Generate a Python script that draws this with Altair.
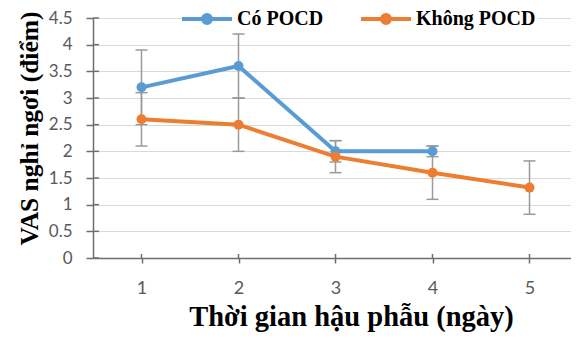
import altair as alt
import pandas as pd

days = [1, 2, 3, 4, 5]
series = ["Có POCD", "Không POCD"]
co_mean = [3.2, 3.6, 2.0, 2.0, None]
co_err = [0.7, 0.6, 0.2, 0.1, None]
khong_mean = [2.6, 2.5, 1.9, 1.6, 1.32]
khong_err = [0.5, 0.5, 0.3, 0.5, 0.5]
y_ticks = [0, 0.5, 1, 1.5, 2, 2.5, 3, 3.5, 4, 4.5]
x_ticks = [1, 2, 3, 4, 5]
colors = ["#5B9BD5", "#ED7D31"]

rows = []
for name, means, errs in [(series[0], co_mean, co_err), (series[1], khong_mean, khong_err)]:
    for d, m, e in zip(days, means, errs):
        if m is None:
            continue
        rows.append({"day": d, "series": name, "value": m, "lo": m - e, "hi": m + e})
df = pd.DataFrame(rows)

W, H = 478, 240
x_max = 0.5 + W / 97.0
xscale = alt.Scale(domain=[0.5, x_max], nice=False, zero=False)
yscale = alt.Scale(domain=[0, 4.5], nice=False)
cscale = alt.Scale(domain=series, range=colors)

axis_col = "#6e6e6e"
x_axis = alt.Axis(
    values=x_ticks, grid=False, tickSize=5, tickWidth=1.5, tickColor=axis_col,
    domainColor=axis_col, domainWidth=1.5,
    labelFont="Lato", labelFontSize=18, labelColor="#595959", labelPadding=16,
    title="Thời gian hậu phẫu (ngày)", titleFont="Liberation Serif",
    titleFontSize=28.5, titleFontWeight="bold", titleColor="black",
    titleX=258, titleY=67, titleBaseline="alphabetic", titleAnchor="middle",
)
y_axis = alt.Axis(
    values=y_ticks, format="~g",
    grid=True, gridColor="#d9d9d9", gridWidth=1.2,
    tickSize=7, tickWidth=1.5, tickColor=axis_col,
    domainColor=axis_col, domainWidth=1.5,
    labelFont="Lato", labelFontSize=17, labelColor="#595959", labelPadding=14,
    title="VAS nghỉ ngơi (điểm)", titleFont="Liberation Serif",
    titleFontSize=25.5, titleFontWeight="bold", titleColor="black",
    titleX=-64, titleY=110, titleBaseline="middle", titleAngle=-90,
)

legend = alt.Legend(
    orient="none", legendX=102, legendY=-11, direction="horizontal", title=None,
    symbolType="M-5,0L5,0M-0.8,0A0.8,0.8,0,1,0,0.8,0A0.8,0.8,0,1,0,-0.8,0",
    symbolSize=100, symbolStrokeWidth=4, labelOffset=20, columnPadding=29,
    labelFont="Liberation Serif", labelFontSize=20, labelFontWeight="bold",
    labelColor="black", fillColor="white", padding=2,
)

X = alt.X("day:Q", scale=xscale, axis=x_axis)

base = alt.Chart(df)
err_col = "#9a9a9a"

err = base.mark_rule(color=err_col, strokeWidth=1.5).encode(
    x=X, y=alt.Y("lo:Q", scale=yscale, axis=y_axis), y2="hi:Q",
)
cap_lo = base.mark_rule(color=err_col, strokeWidth=1.5, xOffset=-6, x2Offset=6).encode(
    x=X, x2="day:Q", y=alt.Y("lo:Q", scale=yscale, axis=y_axis)
)
cap_hi = base.mark_rule(color=err_col, strokeWidth=1.5, xOffset=-6, x2Offset=6).encode(
    x=X, x2="day:Q", y=alt.Y("hi:Q", scale=yscale, axis=y_axis)
)
lines = base.mark_line(strokeWidth=4).encode(
    x=X,
    y=alt.Y("value:Q", scale=yscale, axis=y_axis),
    color=alt.Color("series:N", scale=cscale, legend=legend),
    order="day:Q",
)
pts = base.mark_circle(size=100, opacity=1).encode(
    x=X,
    y=alt.Y("value:Q", scale=yscale, axis=y_axis),
    color=alt.Color("series:N", scale=cscale, legend=None),
)

ytick_df = pd.DataFrame({"lo": y_ticks})
xtick_df = pd.DataFrame({"day": x_ticks})
y_in = alt.Chart(ytick_df).mark_rule(color=axis_col, strokeWidth=1.5).encode(
    y=alt.Y("lo:Q", scale=yscale, axis=y_axis), x=alt.value(0), x2=alt.value(6)
)
x_in = alt.Chart(xtick_df).mark_rule(color=axis_col, strokeWidth=1.5).encode(
    x=X, y=alt.value(H - 4), y2=alt.value(H)
)

chart = alt.layer(err, cap_lo, cap_hi, lines, pts, y_in, x_in).properties(
    width=W, height=H,
    autosize=alt.AutoSizeParams(type="none"),
    padding={"left": 85, "top": 10, "right": 0, "bottom": 74},
).configure_view(stroke=None)

chart.save("out.html", embed_options={"renderer": "svg", "actions": False})
